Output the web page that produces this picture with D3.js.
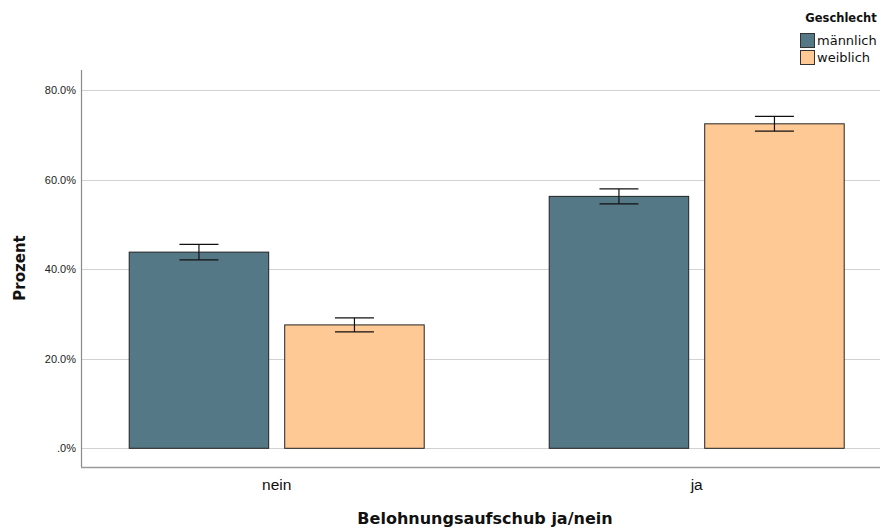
<!DOCTYPE html>
<html>
<head>
<meta charset="utf-8">
<script src="https://cdn.jsdelivr.net/npm/d3@7"></script>
<style>
  html, body { margin: 0; padding: 0; background: #fff; }
  svg { display: block; font-family: "DejaVu Sans", sans-serif; }
</style>
</head>
<body>
<svg id="chart" width="882" height="528"></svg>
<script>
// Belohnungsaufschub by gender, percent with error bars
const categories = ["nein", "ja"];
const genders = ["männlich", "weiblich"];
const valuesMaennlich = [43.8, 56.25];
const valuesWeiblich = [27.55, 72.45];
const errMaennlich = [1.72, 1.68];
const errWeiblich = [1.57, 1.64];
const yTicks = [0, 20, 40, 60, 80];
const colors = ["#547885", "#fec995"];

const rows = [];
categories.forEach((c, i) => {
  rows.push({ cat: c, g: genders[0], v: valuesMaennlich[i], e: errMaennlich[i] });
  rows.push({ cat: c, g: genders[1], v: valuesWeiblich[i], e: errWeiblich[i] });
});

const svg = d3.select("#chart");
const plot = { left: 81, right: 880, top: 70, bottom: 467 };

const y = d3.scaleLinear().domain([0, 80]).range([448.3, 90]);
const x = d3.scaleBand().domain(categories).range([66.7, 906.7]);
const xi = d3.scaleBand().domain(genders).range([x.bandwidth() / 2 - 147.5, x.bandwidth() / 2 + 147.5]).paddingInner(0.103);
const color = d3.scaleOrdinal().domain(genders).range(colors);

// gridlines
svg.append("g")
  .selectAll("line")
  .data(yTicks)
  .join("line")
  .attr("x1", plot.left).attr("x2", plot.right)
  .attr("y1", d => Math.round(y(d)) + 0.5).attr("y2", d => Math.round(y(d)) + 0.5)
  .attr("stroke", "#d2d2d2").attr("stroke-width", 1.2);

// y axis tick labels
const yAxis = d3.axisLeft(y).tickValues(yTicks).tickSize(0).tickPadding(5)
  .tickFormat(d => d === 0 ? ".0%" : d.toFixed(1) + "%");
const gy = svg.append("g").attr("transform", `translate(${plot.left},0)`).call(yAxis);
gy.select(".domain").remove();
gy.selectAll("text").attr("font-size", 11).attr("fill", "#222");

// axis lines
svg.append("line").attr("x1", plot.left + 0.5).attr("x2", plot.left + 0.5)
  .attr("y1", plot.top).attr("y2", plot.bottom).attr("stroke", "#8a8a8a").attr("stroke-width", 1.2);
svg.append("line").attr("x1", plot.left).attr("x2", plot.right)
  .attr("y1", plot.bottom + 0.5).attr("y2", plot.bottom + 0.5).attr("stroke", "#9a9a9a").attr("stroke-width", 1.4);

// bars
const groups = svg.append("g").selectAll("g")
  .data(rows)
  .join("g")
  .attr("transform", d => `translate(${x(d.cat)},0)`);

groups.append("rect")
  .attr("x", d => xi(d.g))
  .attr("y", d => y(d.v))
  .attr("width", xi.bandwidth())
  .attr("height", d => y(0) - y(d.v))
  .attr("fill", d => color(d.g))
  .attr("stroke", "#222").attr("stroke-width", 1);

// error bars
const cap = 19.5;
groups.each(function (d) {
  const g = d3.select(this);
  const cx = xi(d.g) + xi.bandwidth() / 2;
  const y1 = y(d.v + d.e), y2 = y(d.v - d.e);
  g.append("line").attr("x1", cx).attr("x2", cx).attr("y1", y1).attr("y2", y2)
    .attr("stroke", "#111").attr("stroke-width", 1.2);
  [y1, y2].forEach(yy => g.append("line").attr("x1", cx - cap).attr("x2", cx + cap)
    .attr("y1", yy).attr("y2", yy).attr("stroke", "#111").attr("stroke-width", 1.2));
});

// x axis labels
const xAxis = d3.axisBottom(x).tickSize(0).tickPadding(12);
const gx = svg.append("g").attr("transform", `translate(0,${plot.bottom})`).call(xAxis);
gx.select(".domain").remove();
gx.selectAll("text").attr("font-size", 15.5).attr("fill", "#111");

// axis titles
svg.append("text").attr("x", 485).attr("y", 524).attr("text-anchor", "middle")
  .attr("font-size", 16).attr("font-weight", "bold").attr("fill", "#111")
  .text("Belohnungsaufschub ja/nein");
svg.append("text").attr("transform", "translate(25,268) rotate(-90)").attr("text-anchor", "middle")
  .attr("font-size", 15).attr("font-weight", "bold").attr("fill", "#111")
  .text("Prozent");

// legend
const legend = svg.append("g");
legend.append("text").attr("x", 841).attr("y", 22).attr("text-anchor", "middle")
  .attr("font-size", 11.5).attr("font-weight", "bold").attr("fill", "#111").text("Geschlecht");
genders.forEach((gname, i) => {
  const yy = 33 + i * 17;
  legend.append("rect").attr("x", 800.5).attr("y", yy + 0.5).attr("width", 14).attr("height", 14)
    .attr("fill", colors[i]).attr("stroke", "#333").attr("stroke-width", 1);
  legend.append("text").attr("x", 817).attr("y", yy + 12).attr("font-size", 13).attr("fill", "#111").text(gname);
});
</script>
</body>
</html>
